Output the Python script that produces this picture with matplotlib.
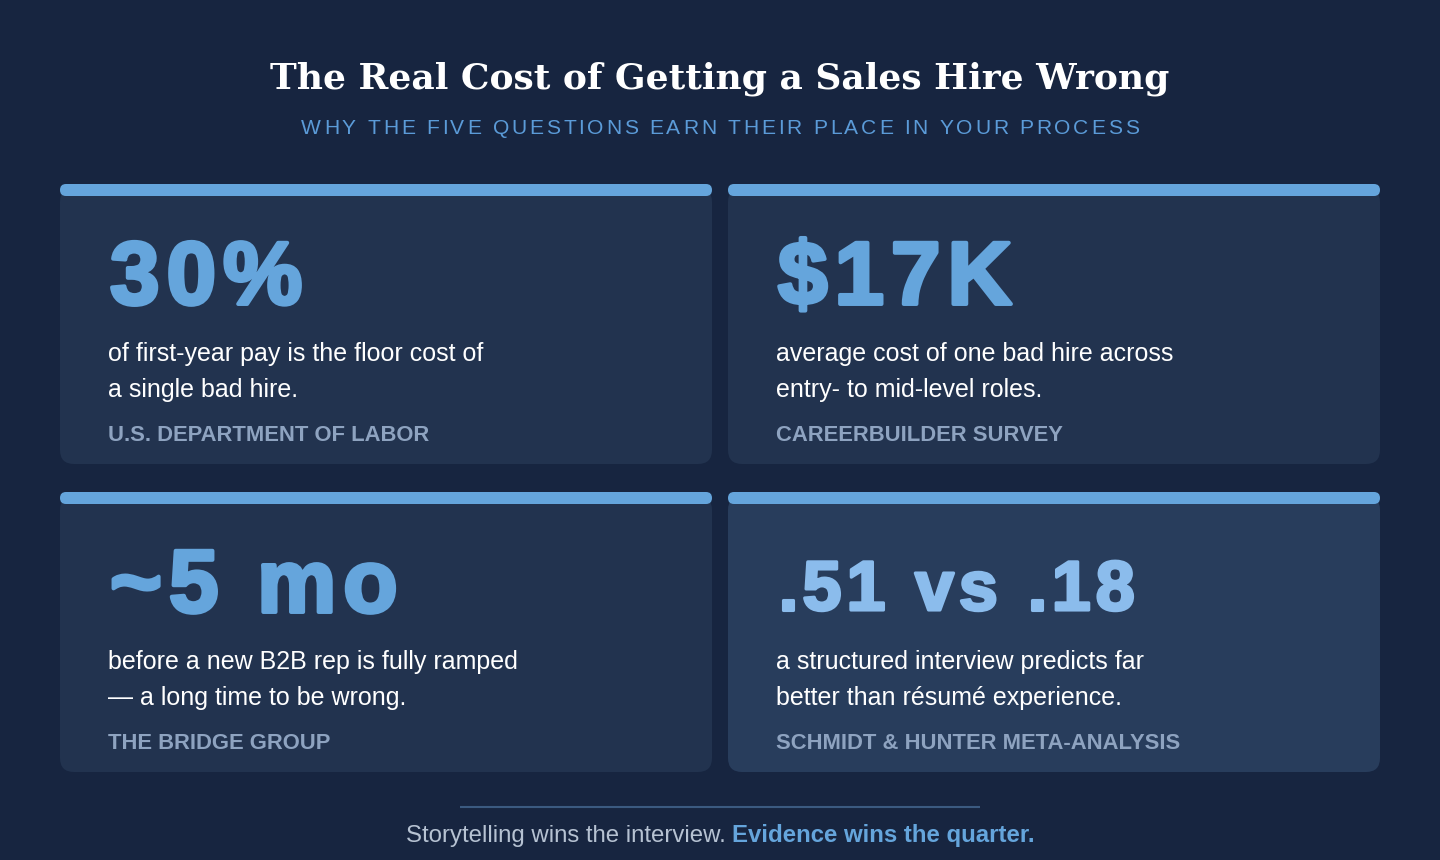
import matplotlib
matplotlib.use("Agg")
import matplotlib.pyplot as plt
from matplotlib.patches import FancyBboxPatch
import matplotlib.patheffects as pe

# ---- content ----
title = "The Real Cost of Getting a Sales Hire Wrong"
subtitle = "WHY THE FIVE QUESTIONS EARN THEIR PLACE IN YOUR PROCESS"
big_numbers = ["30%", "$17K", "~5 mo", ".51 vs .18"]
descriptions = [
    "of first-year pay is the floor cost of\na single bad hire.",
    "average cost of one bad hire across\nentry- to mid-level roles.",
    "before a new B2B rep is fully ramped\n\u2014 a long time to be wrong.",
    "a structured interview predicts far\nbetter than r\u00e9sum\u00e9 experience.",
]
sources = ["U.S. DEPARTMENT OF LABOR", "CAREERBUILDER SURVEY",
           "THE BRIDGE GROUP", "SCHMIDT & HUNTER META-ANALYSIS"]
footer_plain = "Storytelling wins the interview. "
footer_bold = "Evidence wins the quarter."

BG = "#172540"
CARD = "#22334f"
CARD_HI = "#283d5c"
ACCENT = "#65a5dc"
ACCENT_HI = "#8bbcec"
SOURCE_C = "#8ea3c0"
FOOT_C = "#b6c2d2"

SANS = "Liberation Sans"
SERIF = "DejaVu Serif"

W, H = 1440, 860
fig = plt.figure(figsize=(W / 100, H / 100), dpi=100, facecolor=BG)
ax = fig.add_axes([0, 0, 1, 1])
ax.set_xlim(0, W)
ax.set_ylim(H, 0)
ax.axis("off")
ax.set_facecolor(BG)
renderer = fig.canvas.get_renderer()


def px(v):
    return v * 0.72  # pixel size -> points at 100 dpi


def text_width(s, **kw):
    t = ax.text(0, 0, s, **kw)
    w = t.get_window_extent(renderer).width
    t.remove()
    return w


def tracked(text, x, y, track, align="left", **kw):
    # draw text one glyph at a time so letter spacing can be widened
    sp = text_width("H H", **kw) - text_width("HH", **kw)
    widths = [sp if c == " " else text_width(c, **kw) for c in text]
    total = sum(widths) + track * (len(text) - 1)
    if align == "center":
        x = x - total / 2
    for c, w in zip(text, widths):
        if c != " ":
            ax.text(x, y, c, ha="left", va="baseline", **kw)
        x += w + track


# title
ax.text(720, 88, title, ha="center", va="baseline", color="white",
        fontsize=px(36), fontweight="bold", family=SERIF)

tracked(subtitle, 720, 134, 2.75, align="center",
        fontsize=px(21), family=SANS, color="#5b9bd8")

# cards
col_x = [60, 728]
row_y = [184, 492]
card_w, card_h = 652, 280
for i in range(4):
    r, c = divmod(i, 2)
    x0, y0 = col_x[c], row_y[r]
    fc = CARD_HI if i == 3 else CARD
    ax.add_patch(FancyBboxPatch((x0, y0 + 4), card_w, card_h - 4,
                                boxstyle="round,pad=0,rounding_size=14",
                                fc=fc, ec="none", zorder=1))
    ax.add_patch(FancyBboxPatch((x0, y0), card_w, 12,
                                boxstyle="round,pad=0,rounding_size=6",
                                fc=ACCENT, ec="none", zorder=2))
    tx = x0 + 48
    ncol = ACCENT_HI if i == 3 else ACCENT
    size = 70 if i == 3 else 89
    track = 5 if i == 3 else 7
    tracked(big_numbers[i], tx + 2, y0 + 120 - (2 if i == 3 else 0), track,
            color=ncol, fontsize=px(size), fontweight="bold", family=SANS,
            zorder=3,
            path_effects=[pe.Stroke(linewidth=size * 0.032, foreground=ncol),
                          pe.Normal()])
    for k, line in enumerate(descriptions[i].split("\n")):
        ax.text(tx, y0 + 177 + 36 * k, line, ha="left", va="baseline",
                color="white", fontsize=px(25), family=SANS, zorder=3)
    ax.text(tx, y0 + 257, sources[i], ha="left", va="baseline",
            color=SOURCE_C, fontsize=px(22), fontweight="bold",
            family=SANS, zorder=3)

# footer
ax.plot([460, 980], [807, 807], color="#3b5a80", lw=1.5, solid_capstyle="butt")
fsize = px(24)
w1 = text_width(footer_plain, fontsize=fsize, family=SANS)
w2 = text_width(footer_bold, fontsize=fsize, family=SANS, fontweight="bold")
fx = 720 - (w1 + w2) / 2
ax.text(fx, 842, footer_plain, ha="left", va="baseline", color=FOOT_C,
        fontsize=fsize, family=SANS)
ax.text(fx + w1, 842, footer_bold, ha="left", va="baseline", color=ACCENT,
        fontsize=fsize, family=SANS, fontweight="bold")

fig.savefig("out.png", dpi=100, facecolor=BG)
